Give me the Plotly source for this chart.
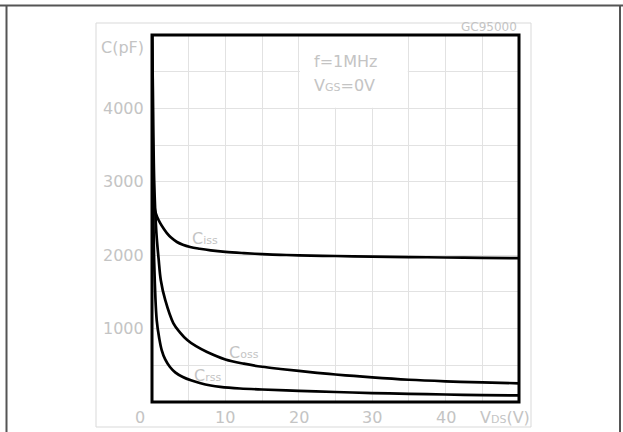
import plotly.graph_objects as go

# ---------------- data ----------------
v_ciss = [0, 0.1, 0.2, 0.4, 0.7, 1.1, 1.6, 2.0, 2.6, 3.4, 4.2, 5.2, 6.5, 8, 10, 12.5, 15, 17.5, 20, 25, 30, 35, 40, 45, 50]
c_ciss = [5000, 3500, 2850, 2620, 2520, 2440, 2360, 2305, 2240, 2180, 2142, 2112, 2088, 2066, 2045, 2028, 2015, 2005, 1998, 1989, 1981, 1975, 1969, 1964, 1960]

v_coss = [0, 0.1, 0.3, 0.6, 0.9, 1.2, 1.8, 2.9, 3.8, 4.8, 6, 7.5, 10, 12.5, 15, 17.5, 20, 22.5, 25, 27.5, 30, 35, 40, 45, 50]
c_coss = [5000, 4400, 3000, 2300, 1950, 1660, 1390, 1076, 950, 845, 760, 681, 580, 522, 480, 450, 423, 398, 375, 355, 335, 303, 282, 267, 255]

v_crss = [0, 0.1, 0.3, 0.64, 1.0, 1.32, 1.8, 2.45, 3.2, 4.2, 5.3, 6.5, 8, 9.3, 12, 15, 20, 25, 30, 35, 40, 45, 50]
c_crss = [5000, 3500, 1900, 1117, 860, 708, 580, 477, 400, 340, 295, 259, 225, 206, 184, 170, 152, 136, 122, 111, 102, 95, 90]

x_ticks = [0, 10, 20, 30, 40]
x_tick_labels = ["0", "10", "20", "30", "40"]
y_ticks = [1000, 2000, 3000, 4000]
y_tick_labels = ["1000", "2000", "3000", "4000"]

GRAY = "#c4c4c4"
FONT = "DejaVu Sans"

fig = go.Figure()
for vx, cy in [(v_ciss, c_ciss), (v_coss, c_coss), (v_crss, c_crss)]:
    fig.add_trace(go.Scatter(x=vx, y=cy, mode="lines",
                             line=dict(color="black", width=2.7, shape="spline", smoothing=1.0),
                             showlegend=False, hoverinfo="skip"))

W, H = 623, 432
L, R, T, B = 152, 519, 35, 402
pw, ph = R - L, B - T

def px(x):
    return (x - L) / pw

def py(y):
    return (B - y) / ph

fig.update_layout(
    width=W, height=H,
    margin=dict(l=L, r=W - R, t=T, b=H - B),
    paper_bgcolor="white", plot_bgcolor="white",
    xaxis=dict(range=[0, 50], dtick=5, tick0=0, showticklabels=False, ticks="",
               showgrid=True, gridcolor="#e2e2e2", gridwidth=1, zeroline=False, showline=False),
    yaxis=dict(range=[0, 5000], dtick=500, tick0=0, showticklabels=False, ticks="",
               showgrid=True, gridcolor="#e2e2e2", gridwidth=1, zeroline=False, showline=False),
    font=dict(family=FONT, color=GRAY, size=16),
)

shapes = []
# white box behind the condition text
shapes.append(dict(type="rect", xref="x", yref="y", x0=20.15, x1=34.85, y0=4008, y1=4990,
                   fillcolor="white", line=dict(width=0), layer="between"))
# black frame
shapes.append(dict(type="rect", xref="paper", yref="paper", x0=0, x1=1, y0=0, y1=1,
                   line=dict(color="black", width=3), layer="above"))
# light gray outer box
shapes.append(dict(type="rect", xref="paper", yref="paper", x0=px(96), x1=px(531), y0=py(427), y1=py(23),
                   line=dict(color="#d9d9d9", width=1), layer="below"))
# page border lines
shapes.append(dict(type="line", xref="paper", yref="paper", x0=px(0), x1=px(623), y0=py(5.5), y1=py(5.5),
                   line=dict(color="#555555", width=2)))
shapes.append(dict(type="line", xref="paper", yref="paper", x0=px(6.5), x1=px(6.5), y0=py(5), y1=py(440),
                   line=dict(color="#555555", width=2)))
shapes.append(dict(type="line", xref="paper", yref="paper", x0=px(620), x1=px(620), y0=py(5), y1=py(440),
                   line=dict(color="#555555", width=2)))
fig.update_layout(shapes=shapes)

SUB = "<span style='font-size:11px'>{}</span>"
ann = []
for v, t in zip(x_ticks, x_tick_labels):
    ann.append(dict(x=v, y=py(417), xref="x", yref="paper", text=t, showarrow=False,
                    xanchor="center", yanchor="middle", xshift=-12 if v == 0 else 0))
ann.append(dict(x=px(532), y=py(417), xref="paper", yref="paper",
                text="V" + SUB.format("DS") + "(V)", showarrow=False,
                xanchor="right", yanchor="middle"))
for v, t in zip(y_ticks, y_tick_labels):
    ann.append(dict(x=px(146), y=v, xref="paper", yref="y", text=t, showarrow=False,
                    xanchor="right", yanchor="middle"))
ann.append(dict(x=px(146), y=py(47), xref="paper", yref="paper", text="C(pF)", showarrow=False,
                xanchor="right", yanchor="middle"))
ann.append(dict(x=px(519), y=py(27), xref="paper", yref="paper", text="GC95000", showarrow=False,
                xanchor="right", yanchor="middle", font=dict(size=12)))
ann.append(dict(x=px(312), y=py(61), xref="paper", yref="paper", text="f=1MHz", showarrow=False,
                xanchor="left", yanchor="middle"))
ann.append(dict(x=px(312), y=py(85), xref="paper", yref="paper",
                text="V" + SUB.format("GS") + "=0V", showarrow=False,
                xanchor="left", yanchor="middle"))
ann.append(dict(x=px(190), y=py(238), xref="paper", yref="paper",
                text="C" + SUB.format("iss"), showarrow=False,
                xanchor="left", yanchor="middle"))
ann.append(dict(x=px(227), y=py(352), xref="paper", yref="paper",
                text="C" + SUB.format("oss"), showarrow=False,
                xanchor="left", yanchor="middle"))
ann.append(dict(x=px(192), y=py(375), xref="paper", yref="paper",
                text="C" + SUB.format("rss"), showarrow=False,
                xanchor="left", yanchor="middle"))
fig.update_layout(annotations=ann)

fig.write_html("out.html", config={"displayModeBar": False},
               post_script="document.body.style.margin='0';document.body.style.overflow='hidden';")
